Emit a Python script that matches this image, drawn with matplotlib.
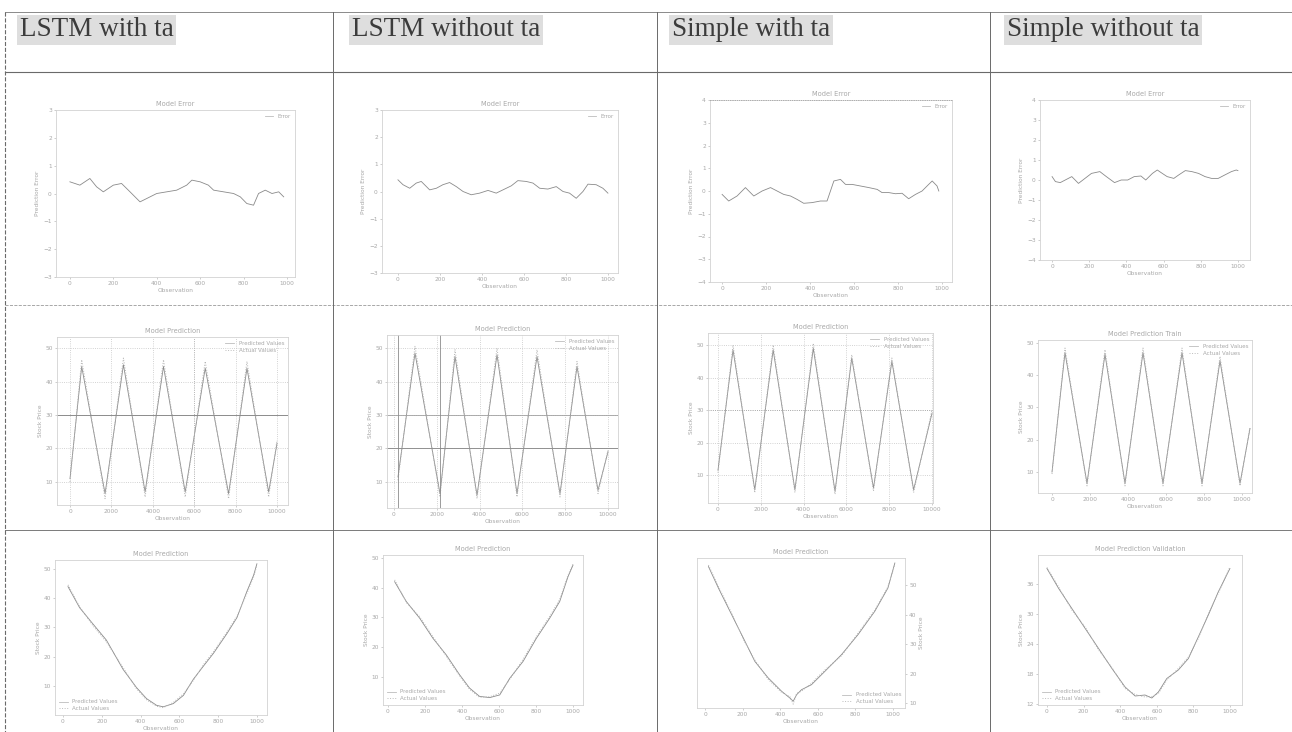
import matplotlib
matplotlib.use("Agg")
import matplotlib.pyplot as plt
from matplotlib.lines import Line2D

W, H = 1292, 732
fig = plt.figure(figsize=(W / 100, H / 100), dpi=100)
fig.patch.set_facecolor("white")

# ---------------- data ----------------
headers = ["LSTM with ta", "LSTM without ta", "Simple with ta", "Simple without ta"]

err1_x = [0, 46, 92, 123, 154, 200, 238, 277, 323, 354, 400, 446, 492, 538, 562, 600, 638, 662, 708, 754, 785, 815, 846, 869, 900, 931, 962, 985]
err1_y = [0.42, 0.30, 0.54, 0.24, 0.06, 0.30, 0.36, 0.06, -0.30, -0.18, 0.0, 0.06, 0.12, 0.30, 0.48, 0.42, 0.30, 0.12, 0.06, 0.0, -0.12, -0.36, -0.42, 0.0, 0.12, 0.0, 0.06, -0.12]

err2_x = [0, 24, 56, 87, 111, 151, 183, 214, 246, 278, 310, 349, 389, 429, 468, 500, 540, 571, 611, 643, 675, 714, 754, 786, 817, 849, 881, 905, 944, 976, 1000]
err2_y = [0.43, 0.25, 0.12, 0.31, 0.37, 0.06, 0.12, 0.25, 0.33, 0.18, 0.0, -0.12, -0.06, 0.04, -0.06, 0.06, 0.21, 0.40, 0.37, 0.31, 0.12, 0.09, 0.18, 0.0, -0.06, -0.25, 0.0, 0.27, 0.25, 0.12, -0.06]

err3_x = [0, 30, 68, 106, 144, 182, 220, 250, 280, 311, 341, 371, 409, 447, 477, 508, 538, 561, 591, 629, 667, 705, 727, 758, 788, 818, 848, 879, 909, 939, 955, 977, 985]
err3_y = [-0.15, -0.44, -0.22, 0.15, -0.22, 0.0, 0.15, 0.0, -0.15, -0.22, -0.37, -0.54, -0.51, -0.44, -0.44, 0.44, 0.51, 0.29, 0.29, 0.22, 0.15, 0.07, -0.07, -0.07, -0.12, -0.10, -0.34, -0.15, 0.0, 0.29, 0.44, 0.22, 0.0]

err4_x = [0, 18, 44, 71, 106, 142, 177, 212, 257, 292, 336, 372, 407, 442, 478, 504, 540, 566, 593, 619, 655, 681, 717, 752, 788, 823, 858, 894, 929, 965, 991, 1000]
err4_y = [0.17, -0.08, -0.13, 0.0, 0.17, -0.17, 0.08, 0.33, 0.42, 0.17, -0.13, 0.0, 0.0, 0.17, 0.20, 0.0, 0.33, 0.50, 0.33, 0.17, 0.08, 0.25, 0.47, 0.42, 0.33, 0.17, 0.08, 0.08, 0.25, 0.42, 0.50, 0.47]

pred5_x = [0, 565, 1694, 2581, 3629, 4516, 5565, 6532, 7661, 8548, 9597, 10000]
pred5_y = [11.0, 44.5, 6.5, 45.0, 7.0, 44.5, 7.0, 44.0, 6.5, 44.0, 7.0, 21.5]
act5_y = [10.0, 46.5, 5.0, 47.0, 5.5, 46.5, 5.5, 46.0, 5.0, 46.0, 5.5, 22.5]

pred6_x = [187, 981, 2150, 2850, 3879, 4813, 5748, 6682, 7757, 8551, 9533, 10000]
pred6_y = [11.5, 48.5, 6.5, 47.5, 6.0, 48.0, 6.5, 47.5, 6.5, 44.5, 7.5, 19.0]
act6_y = [10.5, 50.5, 5.5, 49.5, 5.0, 50.0, 5.5, 49.5, 5.5, 46.0, 6.5, 19.5]

pred7_x = [0, 703, 1719, 2578, 3594, 4453, 5469, 6250, 7266, 8125, 9141, 10000]
pred7_y = [11.5, 48.5, 5.5, 48.5, 5.5, 49.0, 5.0, 46.0, 6.0, 45.0, 5.5, 29.0]
act7_y = [10.7, 50.0, 4.6, 50.0, 4.6, 50.5, 4.1, 47.0, 5.1, 46.0, 4.6, 30.0]

pred8_x = [0, 684, 1842, 2789, 3842, 4789, 5842, 6842, 7895, 8842, 9895, 10421]
pred8_y = [10.0, 47.0, 6.5, 46.5, 6.5, 47.0, 6.5, 47.0, 6.5, 44.5, 6.5, 23.5]
act8_y = [9.4, 48.4, 5.7, 47.9, 5.7, 48.4, 5.7, 48.4, 5.7, 45.8, 5.7, 24.0]

val9_x = [26, 86, 155, 224, 310, 379, 431, 483, 517, 569, 621, 672, 724, 776, 845, 897, 948, 983, 1000]
val9_pred = [43.9, 36.7, 31.1, 25.6, 15.6, 9.4, 5.6, 3.3, 2.8, 3.9, 6.7, 12.2, 16.7, 21.1, 27.8, 33.3, 42.2, 47.8, 51.7]
val9_act = [44.5, 37.0, 30.5, 25.0, 16.2, 9.0, 5.2, 3.0, 2.5, 4.3, 7.2, 11.8, 17.2, 21.6, 28.3, 33.8, 41.5, 47.2, 51.2]

val10_x = [36, 99, 171, 243, 315, 387, 441, 495, 550, 604, 658, 730, 802, 874, 928, 973, 1000]
val10_pred = [42.0, 35.3, 29.7, 22.9, 17.3, 10.6, 6.1, 3.3, 2.9, 3.8, 9.4, 15.1, 22.9, 29.7, 35.3, 43.7, 47.6]
val10_act = [42.6, 35.0, 30.2, 23.4, 16.8, 10.2, 5.7, 3.0, 3.2, 4.4, 9.0, 15.8, 23.4, 30.3, 36.0, 44.2, 48.0]

val11_x = [18, 71, 142, 204, 265, 336, 407, 451, 469, 487, 513, 566, 637, 726, 814, 903, 973, 1010]
val11_pred = [56.3, 49.0, 39.9, 32.0, 24.1, 18.5, 14.0, 11.7, 10.6, 12.8, 14.5, 16.2, 20.7, 26.4, 33.2, 41.1, 49.0, 57.5]
val11_act = [56.8, 49.5, 40.4, 31.5, 24.6, 18.0, 13.6, 12.2, 9.6, 13.3, 14.0, 16.7, 21.2, 26.0, 33.7, 41.5, 49.4, 57.0]

val12_x = [0, 64, 136, 209, 282, 355, 427, 482, 536, 573, 609, 655, 718, 773, 827, 882, 936, 1000]
val12_pred = [39.0, 35.0, 31.0, 27.0, 23.0, 19.0, 15.3, 13.5, 13.7, 13.1, 14.3, 17.0, 18.7, 21.0, 25.3, 29.7, 34.3, 39.0]
val12_act = [39.2, 35.3, 30.7, 27.3, 22.7, 19.2, 15.0, 13.8, 13.3, 13.4, 14.0, 16.7, 19.0, 21.3, 25.0, 30.0, 34.0, 39.3]

err_ticks = [0, 200, 400, 600, 800, 1000]
pred_ticks = [0, 2000, 4000, 6000, 8000, 10000]
price_ticks = [10, 20, 30, 40, 50]

# ---------------- styling ----------------
LINE = "#8a8a8a"
LINE2 = "#b5b5b5"
TXT = "#a8a8a8"
SPINE = "#d2d2d2"
FS = 4.2


def ax_at(l, t, r, b):
    return fig.add_axes([l / W, 1 - b / H, (r - l) / W, (b - t) / H])


def style(ax, title, ylabel, right=False, grid=False):
    ax.set_facecolor("none")
    for s in ax.spines.values():
        s.set_color(SPINE)
        s.set_linewidth(0.6)
    ax.tick_params(colors=TXT, labelsize=FS, length=1.5, width=0.4, pad=1.5)
    ax.set_title(title, fontsize=FS + 0.6, color=TXT, pad=3)
    ax.set_xlabel("Observation", fontsize=FS, color=TXT, labelpad=1)
    if right:
        ax.yaxis.tick_right()
        ax.yaxis.set_label_position("right")
    ax.set_ylabel(ylabel, fontsize=FS, color=TXT, labelpad=2)
    if grid:
        ax.grid(True, linestyle=":", color="#c4c4c4", linewidth=0.6)


def legend(ax, loc):
    lg = ax.legend(loc=loc, fontsize=FS - 0.2, frameon=False, labelcolor=TXT,
                   handlelength=1.6, borderaxespad=0.3, labelspacing=0.3)
    for h in lg.get_lines():
        h.set_color("#bdbdbd")


# ---------------- row 1 : errors ----------------
row1 = [
    ((56, 110, 295, 277), err1_x, err1_y, (-64, 1037), (-3, 3), False),
    ((382, 110, 618, 273), err2_x, err2_y, (-76, 1048), (-3, 3), False),
    ((710, 100, 952, 282), err3_x, err3_y, (-55, 1045), (-4, 4), True),
    ((1040, 100, 1250, 260), err4_x, err4_y, (-65, 1065), (-4, 4), False),
]
for box, xs, ys, xl, yl, dotted_top in row1:
    ax = ax_at(*box)
    ax.plot(xs, ys, color=LINE, lw=0.6, label="Error")
    ax.set_xlim(*xl)
    ax.set_ylim(*yl)
    ax.set_xticks(err_ticks)
    ax.set_yticks(list(range(yl[0], yl[1] + 1)))
    style(ax, "Model Error", "Prediction Error", grid=False)
    if dotted_top:
        ax.spines["top"].set_linestyle(":")
        ax.spines["top"].set_color("#a0a0a0")
    legend(ax, "upper right")

# ---------------- row 2 : predictions ----------------
row2 = [
    ((57, 337, 288, 505), pred5_x, pred5_y, act5_y, (-628, 10531), (3.1, 53.3), "Model Prediction"),
    ((387, 335, 618, 508), pred6_x, pred6_y, act6_y, (-327, 10467), (2.2, 53.9), "Model Prediction"),
    ((708, 333, 933, 503), pred7_x, pred7_y, act7_y, (-467, 10047), (1.4, 53.7), "Model Prediction"),
    ((1038, 340, 1252, 493), pred8_x, pred8_y, act8_y, (-737, 10526), (3.5, 50.9), "Model Prediction Train"),
]
for i, (box, xs, p, a, xl, yl, title) in enumerate(row2):
    ax = ax_at(*box)
    ax.plot(xs, p, color=LINE, lw=0.6, label="Predicted Values")
    ax.plot(xs, a, color=LINE2, lw=0.7, ls=":", label="Actual Values")
    ax.set_xlim(*xl)
    ax.set_ylim(*yl)
    ax.set_xticks(pred_ticks)
    ax.set_yticks(price_ticks)
    style(ax, title, "Stock Price", grid=(i < 3))
    if i == 0:
        ax.axhline(30, color="#8c8c8c", lw=0.7)
        ax.axvline(6000, color="#b0b0b0", lw=0.6, ls=":")
    if i == 1:
        ax.axhline(30, color="#a0a0a0", lw=0.6)
        ax.axhline(20, color="#909090", lw=0.7)
        ax.axvline(187, color="#8c8c8c", lw=0.6)
        ax.axvline(2150, color="#8c8c8c", lw=0.6)
    if i == 2:
        ax.axhline(30, color="#a0a0a0", lw=0.6, ls=":")
    legend(ax, "upper right")

# ---------------- row 3 : validation ----------------
row3 = [
    ((55, 560, 267, 715), val9_x, val9_pred, val9_act, (-41, 1052), (0, 53), "Model Prediction", False, "lower left", price_ticks),
    ((383, 555, 583, 705), val10_x, val10_pred, val10_act, (-27, 1054), (0.4, 51), "Model Prediction", False, "lower left", price_ticks),
    ((697, 558, 905, 708), val11_x, val11_pred, val11_act, (-43, 1064), (8.3, 59.2), "Model Prediction", True, "lower right", price_ticks),
    ((1038, 555, 1242, 705), val12_x, val12_pred, val12_act, (-49, 1066), (11.7, 41.7), "Model Prediction Validation", False, "lower left", [12, 18, 24, 30, 36]),
]
for box, xs, p, a, xl, yl, title, right, loc, yt in row3:
    ax = ax_at(*box)
    ax.plot(xs, p, color=LINE, lw=0.6, label="Predicted Values")
    ax.plot(xs, a, color=LINE2, lw=0.7, ls=":", label="Actual Values")
    ax.set_xlim(*xl)
    ax.set_ylim(*yl)
    ax.set_xticks(err_ticks)
    ax.set_yticks(yt)
    style(ax, title, "Stock Price", right=right)
    legend(ax, loc)

# ---------------- table lines ----------------
def hline(y, x0, x1, color, lw, ls="-"):
    fig.add_artist(Line2D([x0 / W, x1 / W], [1 - y / H, 1 - y / H], color=color, lw=lw, ls=ls))


def vline(x, y0, y1, color, lw, ls="-"):
    fig.add_artist(Line2D([x / W, x / W], [1 - y0 / H, 1 - y1 / H], color=color, lw=lw, ls=ls))


hline(12, 5, 1292, "#8a8a8a", 0.7)
hline(72, 5, 1292, "#6a6a6a", 0.8)
hline(305, 5, 1292, "#9a9a9a", 0.6, "--")
hline(530, 5, 1292, "#7a7a7a", 0.7)
vline(5, 12, 732, "#6a6a6a", 0.8, "--")
vline(333, 12, 732, "#6a6a6a", 0.7)
vline(657, 12, 732, "#6a6a6a", 0.7)
vline(990, 12, 732, "#6a6a6a", 0.7)

# ---------------- header texts ----------------
header_x = [20, 352, 672, 1007]
for hx, txt in zip(header_x, headers):
    fig.text(hx / W, 1 - 30 / H, txt, fontsize=19.5, family="Liberation Serif",
             color="#3c3c3c", va="center", ha="left",
             bbox=dict(boxstyle="square,pad=0.1", facecolor="#dedede", edgecolor="none"))

fig.savefig("out.png", dpi=100, facecolor="white")
